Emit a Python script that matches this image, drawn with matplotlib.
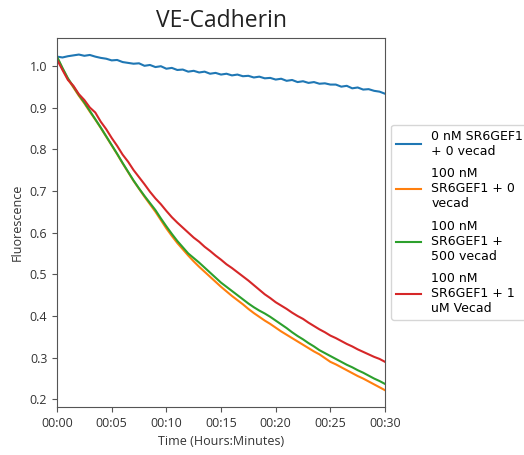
import numpy as np
import matplotlib
matplotlib.use('Agg')
import matplotlib.pyplot as plt
from matplotlib.ticker import FuncFormatter, MultipleLocator

# time in minutes, one reading every 30 s
minutes = np.arange(0, 30.5, 0.5)

blue_0nM = [1.022, 1.020, 1.023, 1.025, 1.027, 1.024, 1.026, 1.022, 1.019, 1.017,
            1.013, 1.014, 1.009, 1.007, 1.005, 1.006, 1.000, 1.002, 0.997, 0.999,
            0.993, 0.995, 0.990, 0.991, 0.986, 0.988, 0.984, 0.986, 0.981, 0.983,
            0.979, 0.981, 0.977, 0.979, 0.975, 0.976, 0.972, 0.974, 0.970, 0.971,
            0.967, 0.969, 0.964, 0.966, 0.961, 0.963, 0.959, 0.961, 0.957, 0.958,
            0.955, 0.955, 0.950, 0.952, 0.946, 0.948, 0.943, 0.944, 0.940, 0.938,
            0.933]
orange_100nM = [1.020, 0.993, 0.968, 0.948, 0.928, 0.910, 0.890, 0.871, 0.851, 0.830,
                0.809, 0.788, 0.766, 0.745, 0.724, 0.705, 0.686, 0.668, 0.650, 0.630,
                0.610, 0.592, 0.575, 0.560, 0.545, 0.531, 0.518, 0.506, 0.494, 0.482,
                0.470, 0.459, 0.448, 0.438, 0.428, 0.417, 0.407, 0.398, 0.389, 0.381,
                0.372, 0.363, 0.355, 0.347, 0.339, 0.331, 0.323, 0.315, 0.308, 0.299,
                0.290, 0.284, 0.277, 0.270, 0.263, 0.256, 0.250, 0.243, 0.236, 0.229,
                0.222]
green_500 = [1.022, 0.995, 0.970, 0.950, 0.930, 0.912, 0.892, 0.872, 0.852, 0.831,
             0.810, 0.789, 0.767, 0.746, 0.725, 0.706, 0.688, 0.671, 0.654, 0.634,
             0.615, 0.597, 0.580, 0.565, 0.550, 0.539, 0.528, 0.516, 0.504, 0.492,
             0.480, 0.470, 0.460, 0.450, 0.440, 0.430, 0.421, 0.413, 0.406, 0.398,
             0.389, 0.380, 0.371, 0.361, 0.352, 0.344, 0.335, 0.327, 0.318, 0.311,
             0.304, 0.297, 0.290, 0.283, 0.277, 0.270, 0.264, 0.257, 0.250, 0.244,
             0.237]
red_1uM = [1.015, 0.990, 0.966, 0.952, 0.932, 0.918, 0.900, 0.888, 0.866, 0.848,
           0.827, 0.808, 0.787, 0.770, 0.750, 0.733, 0.716, 0.698, 0.682, 0.668,
           0.652, 0.637, 0.624, 0.612, 0.600, 0.588, 0.578, 0.566, 0.556, 0.545,
           0.535, 0.524, 0.515, 0.505, 0.495, 0.485, 0.474, 0.463, 0.452, 0.443,
           0.433, 0.425, 0.417, 0.408, 0.400, 0.393, 0.384, 0.376, 0.368, 0.361,
           0.353, 0.347, 0.340, 0.333, 0.327, 0.320, 0.314, 0.308, 0.302, 0.297,
           0.290]

labels = ['0 nM SR6GEF1\n+ 0 vecad',
          '100 nM\nSR6GEF1 + 0\nvecad',
          '100 nM\nSR6GEF1 +\n500 vecad',
          '100 nM\nSR6GEF1 + 1\nuM Vecad']

txt = '#333333'
fig = plt.figure(figsize=(5.24, 4.55), dpi=100)
ax = fig.add_axes([0.1088, 0.1055, 0.626, 0.8115])

for y, lab in zip([blue_0nM, orange_100nM, green_500, red_1uM], labels):
    ax.plot(minutes, y, label=lab, lw=1.5)

ax.set_xlim(0, 30)
ax.xaxis.set_major_locator(MultipleLocator(5))
ax.xaxis.set_major_formatter(FuncFormatter(lambda v, p: '00:%02d' % int(round(v))))
ax.yaxis.set_major_locator(MultipleLocator(0.1))

for s in ax.spines.values():
    s.set_color('#555555')
ax.tick_params(colors='#555555', labelcolor=txt, labelsize=9)
for t in ax.get_xticklabels() + ax.get_yticklabels():
    t.set_family('Open Sans')

ax.set_title('VE-Cadherin', fontsize=16.5, family='Open Sans', color='#222222', pad=8)
ax.set_xlabel('Time (Hours:Minutes)', fontsize=9, family='Open Sans', color=txt)
ax.set_ylabel('Fluorescence', fontsize=9, family='Open Sans', color=txt)

ax.legend(loc='center left', bbox_to_anchor=(1, 0.5), fontsize=9, labelspacing=0.75)

fig.savefig('out.png', dpi=100)
